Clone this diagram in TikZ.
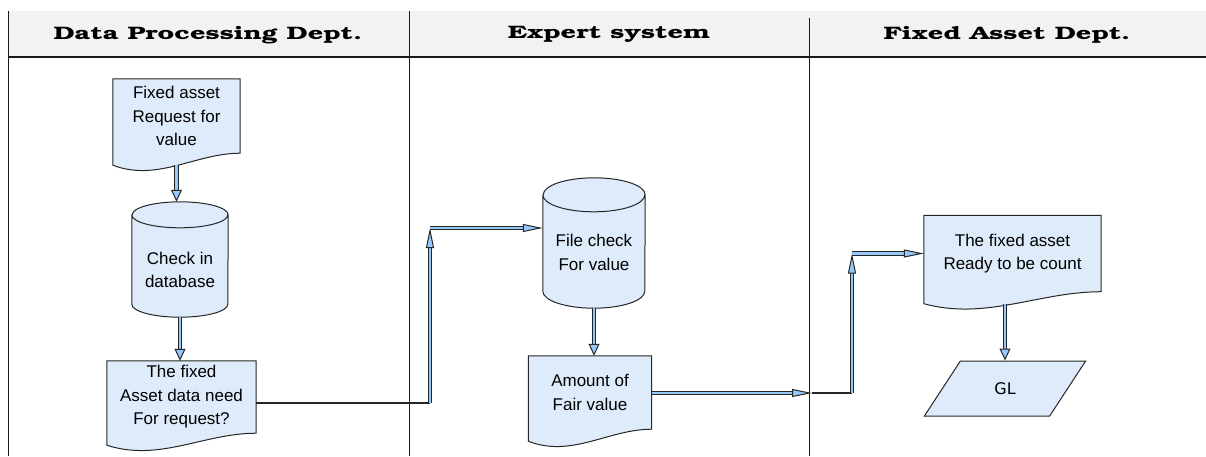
\documentclass[tikz,border=0pt]{standalone}
\usepackage[T1]{fontenc}
\usepackage{fontspec}
\setmainfont{Liberation Sans}
\newfontfamily\glfamily{DejaVu Sans}
\newfontfamily\serifbold{DejaVu Serif}
\usetikzlibrary{arrows.meta,backgrounds,calc,shapes.geometric}

\definecolor{boxfill}{RGB}{222,235,250}
\definecolor{flowblue}{RGB}{150,200,250}
\definecolor{headgray}{RGB}{242,242,242}
\definecolor{laneline}{RGB}{25,25,25}

% Bookman for the lane titles when it is there
\IfFileExists{t1pbk.fd}
  {\newcommand{\lanefont}{\usefont{T1}{pbk}{b}{n}\fontsize{18}{20}\selectfont}}
  {\newcommand{\lanefont}{\serifbold\bfseries\fontsize{17}{20}\selectfont}}
\newcommand{\widetitle}[1]{\scalebox{1.5}[1]{#1}}
\newcommand{\boxfont}{\fontsize{17}{23.5}\selectfont}
% taller first line, pushes the text down below the cylinder lid
\newcommand{\dropby}[1]{\rule{0pt}{#1}}

\begin{document}
\begin{tikzpicture}[x=1pt, y=-1pt,
  lane/.style={draw=laneline, line width=0.8pt},
  lanehead/.style={font=\lanefont, anchor=center},
  doc/.style={rectangle, align=center, inner sep=0pt, font=\boxfont},
  store/.style={rectangle, align=center, inner sep=0pt, font=\boxfont},
  docline/.style={draw=black!85, line width=1pt, fill=boxfill},
  ledger/.style={trapezium, trapezium left angle=59, trapezium right angle=121, trapezium stretches,
    draw=black!85, line width=1pt, fill=boxfill, font=\glfamily\fontsize{16}{18}\selectfont,
    minimum width=162pt, minimum height=55pt},
  flow/.style={draw=black!85, line width=1pt, double=flowblue, double distance=2.8pt,
    -{Triangle[length=12pt, width=11pt, fill=flowblue]}},
  link/.style={flow, -{Triangle[length=20pt, width=8pt, fill=flowblue]}},
  plain/.style={draw=black!85, line width=1.6pt}
]
\useasboundingbox (0,0) rectangle (1206,456);

% swim lanes
\fill[headgray] (8,11) rectangle (1206,57);
\draw[lane] (8,11) -- (8,456);
\draw[lane] (409,11) -- (409,456);
\draw[lane] (809,18) -- (809,456);
\draw[lane, line width=1.6pt] (8,57) -- (1206,57);
\node[lanehead] (hdp) at (208,35) {\widetitle{Data Processing Dept.}};
\node[lanehead] (hes) at (609,35) {\widetitle{Expert system}};
\node[lanehead] (hfa) at (1007,35) {\widetitle{Fixed Asset Dept.}};

% boxes
\node[doc, minimum width=127pt, minimum height=74pt] (req) at (176.5,116) {Fixed asset\\Request for\\value};
\node[store, minimum width=96pt, minimum height=115pt] (check) at (180,259.5) {\dropby{33pt}Check in\\database};
\node[doc, minimum width=149pt, minimum height=72pt] (need) at (181.5,397) {The fixed\\Asset data need\\For request?};
\node[store, minimum width=102pt, minimum height=130pt] (file) at (594,243) {\dropby{31pt}File check\\For value};
\node[doc, minimum width=123pt, minimum height=73pt] (fair) at (590,392.5) {Amount of\\Fair value};
\node[doc, minimum width=177pt, minimum height=76pt] (ready) at (1012.5,253.5) {The fixed asset\\Ready to be count};
\node[ledger] (gl) at (1005,388.5) {GL};

% outlines: documents with the wavy bottom, cylinders for the stores
\begin{scope}[on background layer]
  \foreach \d in {req,need,fair,ready}
    \draw[docline] (\d.north west) -- (\d.north east) -- (\d.south east)
      .. controls ($(\d.south east)!0.35!(\d.south west)$) and ($(\d.south west)!0.35!(\d.south east)+(0,29)$)
      .. ($(\d.south west)+(0,12)$) -- cycle;
  \foreach \c/\w/\r in {check/48/13,file/51/17}
    \draw[docline] ($(\c.north west)+(0,\r)$) -- ($(\c.south west)+(0,-\r)$)
      arc[start angle=180, end angle=360, x radius=\w pt, y radius=\r pt]
      -- ($(\c.north east)+(0,\r)$)
      arc[start angle=0, end angle=180, x radius=\w pt, y radius=\r pt] -- cycle
      ($(\c.north west)+(0,\r)$) arc[start angle=180, end angle=360, x radius=\w pt, y radius=\r pt];
\end{scope}

% connectors
\coordinate (bendA) at (430,403);
\coordinate (bendB) at (430,228);
\coordinate (tipC) at (812,393);
\coordinate (bendC) at (852,393);
\draw[flow] ($(req.south)+(0,12)$) -- (req.south |- check.north);
\draw[flow] (check.south) -- (check.south |- need.north);
\draw[plain] (need.east |- bendA) -- (bendA);
\draw[link] (bendA) -- (bendB);
\draw[link] (bendB) -- (bendB -| file.west);
\draw[flow] (file.south) -- (file.south |- fair.north);
\draw[link] (fair.east |- tipC) -- (tipC);
\draw[plain] (tipC) -- (bendC);
\draw[link] (bendC) -- (bendC |- ready.west);
\draw[link] (bendC |- ready.west) -- (ready.west);
\draw[flow] ($(gl.north |- ready.south)+(0,12)$) -- (gl.north);
\end{tikzpicture}
\end{document}
